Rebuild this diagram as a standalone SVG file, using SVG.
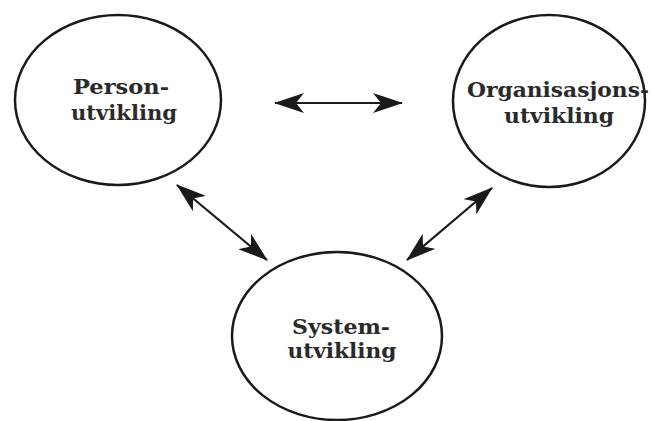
<svg xmlns="http://www.w3.org/2000/svg" width="652" height="421" viewBox="0 0 652 421">
  <style>
    .node { fill: #ffffff; stroke: #1a1a1a; stroke-width: 2.5; }
    .label { font-family: "DejaVu Serif", "Liberation Serif", serif; font-weight: bold; font-size: 21px; fill: #2a2a2a; text-anchor: middle; }
    .link { stroke: #1a1a1a; stroke-width: 2.2; fill: none; marker-start: url(#head); marker-end: url(#head); }
  </style>
  <defs>
    <marker id="head" viewBox="0 0 30 20" refX="29" refY="10" markerWidth="30" markerHeight="20" markerUnits="userSpaceOnUse" orient="auto-start-reverse">
      <path d="M0,0 L30,10 L0,20 L8,10 Z" fill="#1a1a1a"/>
    </marker>
  </defs>
  <rect width="652" height="421" fill="#ffffff"/>

  <g id="person">
    <ellipse class="node" cx="118" cy="100" rx="103" ry="85"/>
    <text class="label" x="121" y="94" textLength="96" lengthAdjust="spacingAndGlyphs">Person-</text>
    <text class="label" x="124" y="120" textLength="106" lengthAdjust="spacingAndGlyphs">utvikling</text>
  </g>

  <g id="organisasjon">
    <ellipse class="node" cx="549" cy="101" rx="96" ry="86"/>
    <text class="label" x="558" y="97" textLength="182" lengthAdjust="spacingAndGlyphs">Organisasjons-</text>
    <text class="label" x="559" y="123" textLength="110" lengthAdjust="spacingAndGlyphs">utvikling</text>
  </g>

  <g id="system">
    <ellipse class="node" cx="337" cy="336" rx="105" ry="84"/>
    <text class="label" x="341" y="334" textLength="98" lengthAdjust="spacingAndGlyphs">System-</text>
    <text class="label" x="342" y="358" textLength="109" lengthAdjust="spacingAndGlyphs">utvikling</text>
  </g>

  <g id="connectors">
    <line class="link" x1="275" y1="103" x2="402" y2="103"/>
    <line class="link" x1="177" y1="185" x2="267" y2="260"/>
    <line class="link" x1="492" y1="188" x2="407" y2="260"/>
  </g>
</svg>
